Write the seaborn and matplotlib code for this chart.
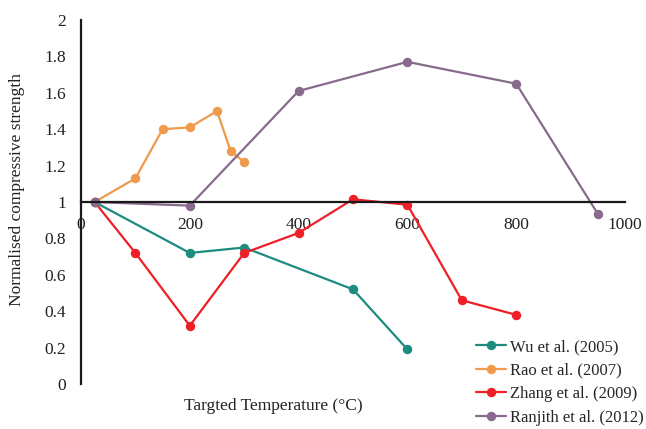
import pandas as pd
import matplotlib.pyplot as plt
import seaborn as sns

# 数据
wu_x = [25, 200, 300, 500, 600]
wu_y = [1.0, 0.72, 0.75, 0.52, 0.19]
rao_x = [25, 100, 150, 200, 250, 275, 300]
rao_y = [1.0, 1.13, 1.40, 1.41, 1.50, 1.28, 1.22]
zhang_x = [25, 100, 200, 300, 400, 500, 600, 700, 800]
zhang_y = [1.0, 0.72, 0.32, 0.72, 0.83, 1.015, 0.985, 0.46, 0.38]
ranjith_x = [25, 200, 400, 600, 800, 950]
ranjith_y = [1.0, 0.98, 1.61, 1.77, 1.65, 0.935]

studies = ['Wu et al. (2005)', 'Rao et al. (2007)', 'Zhang et al. (2009)', 'Ranjith et al. (2012)']
colors = ['#1b8c7e', '#ef9a4c', '#ee1f26', '#876a8c']
x_ticks = [0, 200, 400, 600, 800, 1000]
y_ticks = [0, 0.2, 0.4, 0.6, 0.8, 1, 1.2, 1.4, 1.6, 1.8, 2]
y_labels = ['0', '0.2', '0.4', '0.6', '0.8', '1', '1.2', '1.4', '1.6', '1.8', '2']

frames = []
for name, xs, ys in zip(studies, [wu_x, rao_x, zhang_x, ranjith_x], [wu_y, rao_y, zhang_y, ranjith_y]):
    frames.append(pd.DataFrame({'temp': xs, 'strength': ys, 'study': name}))
df = pd.concat(frames, ignore_index=True)

sns.set_style('white')
plt.rcParams['font.family'] = ['Liberation Serif', 'DejaVu Serif']
fs = 12.5

fig = plt.figure(figsize=(6.46, 4.29), dpi=100)
ax = fig.add_axes([81 / 646, 1 - 384 / 429, (625 - 81) / 646, 364 / 429])

sns.lineplot(data=df, x='temp', y='strength', hue='study', hue_order=studies,
             palette=colors, marker='o', markersize=6.8, markeredgewidth=0,
             linewidth=1.6, estimator=None, sort=False, ax=ax)

ax.set_xlim(0, 1000)
ax.set_ylim(0, 2)
ax.set_xticks(x_ticks)
ax.set_xticklabels([str(t) for t in x_ticks])
ax.set_yticks(y_ticks)
ax.set_yticklabels(y_labels)
ax.tick_params(length=0, labelsize=fs, colors='#222222')
ax.tick_params(axis='y', pad=11)
ax.tick_params(axis='x', pad=10.5)

# x轴位于 y=1
for side in ['top', 'right']:
    ax.spines[side].set_visible(False)
ax.spines['bottom'].set_position(('data', 1))
ax.spines['left'].set_color('#1a1a1a')
ax.spines['bottom'].set_color('#1a1a1a')
ax.spines['left'].set_linewidth(1.6)
ax.spines['bottom'].set_linewidth(1.6)
ax.set_xlabel('')
ax.set_ylabel('')

fig.text(273 / 646, 1 - 406 / 429, 'Targted Temperature (°C)', ha='center', va='center',
         fontsize=fs, color='#222222')
fig.text(17 / 646, 1 - 189 / 429, 'Normalised compressive strength', ha='center', va='center',
         rotation=90, fontsize=fs, color='#222222')

handles, labels = ax.get_legend_handles_labels()
ax.get_legend().remove()
fig.legend(handles, labels, loc='upper left', bbox_to_anchor=(476 / 646, 1 - 339 / 429),
           frameon=False, fontsize=12, handlelength=1.8, handletextpad=0.25,
           labelspacing=0.45, borderaxespad=0, borderpad=0)

fig.savefig('out.png', dpi=100)
